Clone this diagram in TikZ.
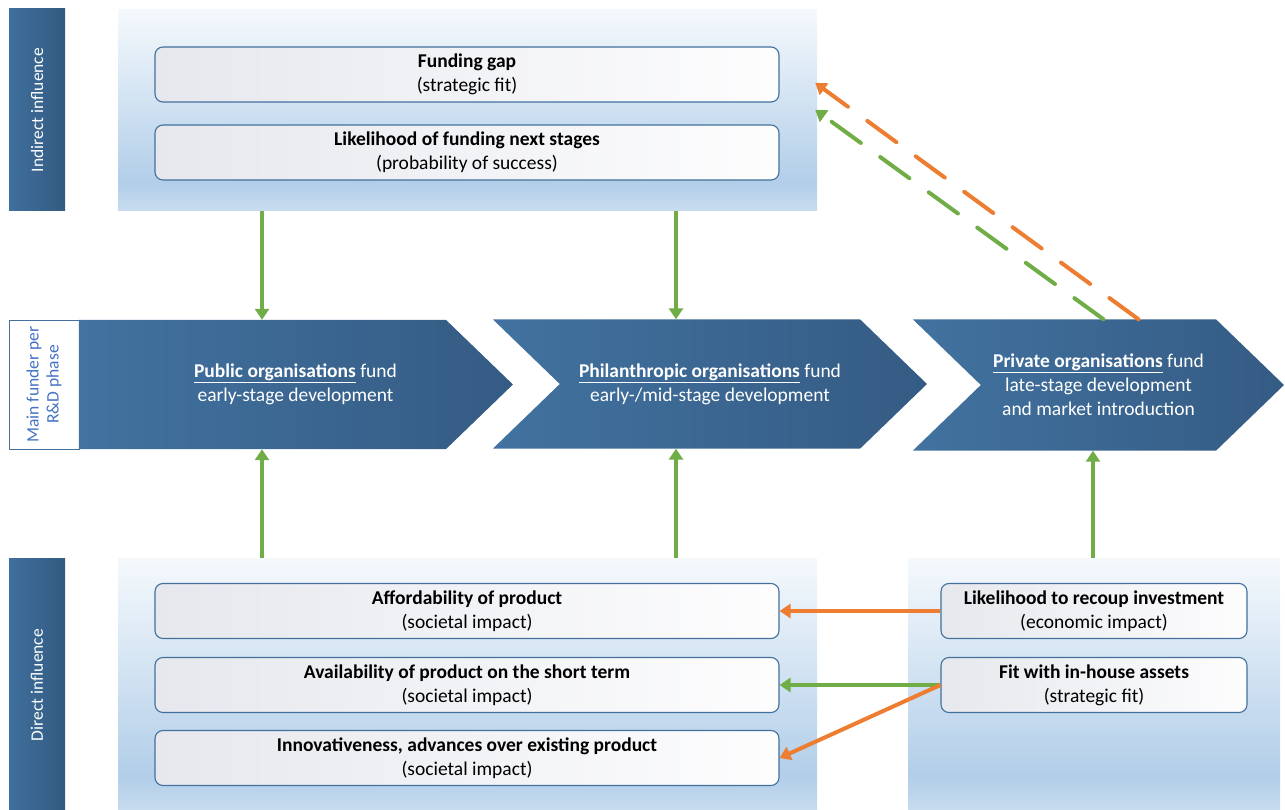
\documentclass[tikz,border=0pt]{standalone}
\usepackage{fontspec}
\setmainfont{Carlito}
\usetikzlibrary{arrows.meta,shapes.symbols,calc}

\definecolor{bardark}{HTML}{335B81}
\definecolor{barlight}{HTML}{3F6F9D}
\definecolor{chevlight}{HTML}{4272A0}
\definecolor{chevdark}{HTML}{345B83}
\definecolor{paneltop}{HTML}{F5F9FC}
\definecolor{panelmid}{HTML}{B2CEE9}
\definecolor{panelbot}{HTML}{C8DCEF}
\definecolor{boxleft}{HTML}{E6E8ED}
\definecolor{boxright}{HTML}{FDFDFE}
\definecolor{boxline}{HTML}{41719C}
\definecolor{labelblue}{HTML}{4472C4}
\definecolor{posgreen}{HTML}{70AD47}
\definecolor{negorange}{HTML}{ED7D31}

\pgfdeclareverticalshading{panelfill}{100bp}{color(0bp)=(panelbot); color(25bp)=(panelbot); color(32bp)=(panelmid); color(75bp)=(paneltop); color(100bp)=(paneltop)}

\tikzset{
  sidebar/.style={rotate=90, left color=barlight, right color=bardark, text=white,
    minimum height=56pt, inner sep=0pt, font=\fontsize{17.5}{20}\selectfont},
  panel/.style={shade, shading=panelfill, inner sep=0pt},
  factor/.style={draw=boxline, line width=1.1pt, rounded corners=8pt, left color=boxleft,
    right color=boxright, minimum height=55pt, inner sep=0pt, align=center,
    font=\fontsize{19.5}{24}\selectfont},
  phase/.style={signal, signal to=east, signal pointer angle=88, left color=chevlight,
    right color=chevdark, text=white, align=center, inner sep=0pt,
    font=\fontsize{19.5}{23.8}\selectfont},
  posarrow/.style={draw=posgreen, line width=4pt, -{Triangle[width=14pt,length=11pt]}},
  negarrow/.style={draw=negorange, line width=4pt, -{Triangle[width=14pt,length=11pt]}},
  longdash/.style={dash pattern=on 36pt off 24pt, line cap=round}
}

\begin{document}
\begin{tikzpicture}[x=1pt, y=-1pt, line join=round, font=\fontsize{19.5}{23.5}\selectfont]
\useasboundingbox (0,0) rectangle (1285,810);

% influence levels
\node[sidebar, minimum width=202pt] (indirect) at (37,110) {Indirect influence};
\node[sidebar, minimum width=254pt] (direct) at (37,685) {Direct influence};
\node[rotate=90, draw=boxline, fill=white, text=labelblue, align=center, inner sep=0pt,
  minimum width=129pt, minimum height=70pt, font=\fontsize{17.5}{20}\selectfont]
  (funder) at (44,384.5) {Main funder per\\R\&D phase};

% panels
\node[panel, minimum width=699pt, minimum height=201pt] (toppanel) at (467.5,110.5) {};
\node[panel, minimum width=699pt, minimum height=254pt] (leftpanel) at (467.5,685) {};
\node[panel, minimum width=372pt, minimum height=254pt] (rightpanel) at (1094,685) {};

% factors
\node[factor, minimum width=624pt] (gap) at (467,74.5) {\textbf{Funding gap}\\(strategic fit)};
\node[factor, minimum width=624pt] (next) at (467,152.5) {\textbf{Likelihood of funding next stages}\\(probability of success)};
\node[factor, minimum width=624pt] (afford) at (467,611) {\textbf{Affordability of product}\\(societal impact)};
\node[factor, minimum width=624pt] (avail) at (467,685) {\textbf{Availability of product on the short term}\\(societal impact)};
\node[factor, minimum width=624pt] (innov) at (467,758) {\textbf{Innovativeness, advances over existing product}\\(societal impact)};
\node[factor, minimum width=306pt] (recoup) at (1094,611) {\textbf{Likelihood to recoup investment}\\(economic impact)};
\node[factor, minimum width=306pt] (fit) at (1094,685) {\textbf{Fit with in-house assets}\\(strategic fit)};

% R&D phases (the first one has a flat back, its text sits 33pt right of the body)
\node[phase, minimum width=434pt, minimum height=129pt, align=left] (public) at (262.5,384.5)
  {\hspace*{66pt}\begin{tabular}{@{}c@{}}\underline{\textbf{Public organisations}} fund\\early-stage development\end{tabular}};
\node[phase, signal from=west, minimum width=434pt, minimum height=129pt] (philan) at (710,384)
  {\underline{\textbf{Philanthropic organisations}} fund\\early-/mid-stage development};
\node[phase, signal from=west, minimum width=371pt, minimum height=131pt] (private) at (1098.5,385)
  {\underline{\textbf{Private organisations}} fund\\late-stage development\\and market introduction};

\coordinate (pubx) at (262,0);
\coordinate (phix) at (676,0);
\coordinate (prix) at (1093,0);

% influence arrows
\draw[posarrow] (toppanel.south -| pubx) -- (public.north -| pubx);
\draw[posarrow] (toppanel.south -| phix) -- (philan.north -| phix);
\draw[posarrow] (leftpanel.north -| pubx) -- (public.south -| pubx);
\draw[posarrow] (leftpanel.north -| phix) -- (philan.south -| phix);
\draw[posarrow] (rightpanel.north -| prix) -- (private.south -| prix);
\draw[negarrow, longdash] ($(private.north)+(40,0)$) -- ($(toppanel.north east)+(-2,73)$);
\draw[posarrow, longdash] ($(private.north)+(5,0)$) -- ($(toppanel.north east)+(-2,100)$);
\draw[negarrow] (recoup.west) -- (afford.east);
\draw[posarrow] (fit.west) -- (avail.east);
\draw[negarrow] (fit.west) -- (innov.east);
\end{tikzpicture}
\end{document}
